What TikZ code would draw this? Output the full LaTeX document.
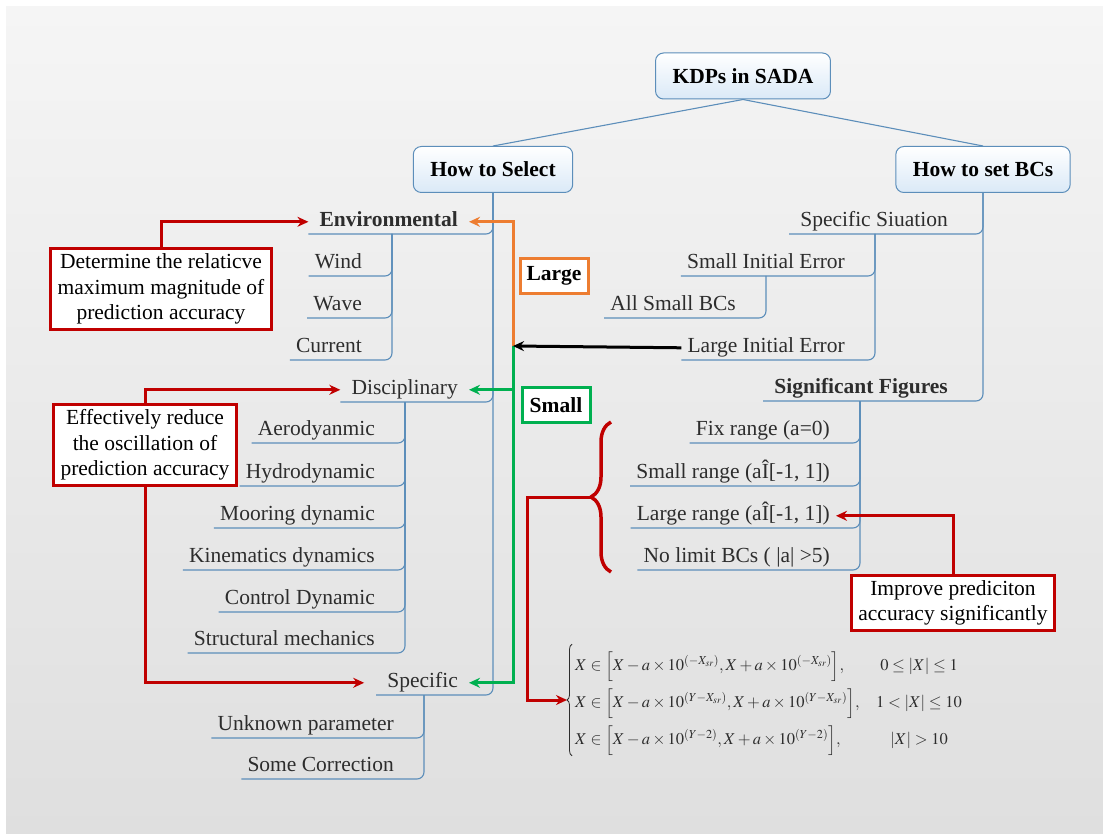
\documentclass[tikz,border=0pt]{standalone}
\usepackage{mathptmx}
\usepackage[no-math]{fontspec}
\setmainfont{Liberation Serif}
\usetikzlibrary{arrows.meta,decorations.pathreplacing}

\definecolor{bgtop}{RGB}{245,245,245}
\definecolor{bgbottom}{RGB}{223,223,223}
\definecolor{treeblue}{RGB}{92,142,186}
\definecolor{boxblue}{RGB}{218,233,247}
\definecolor{accred}{RGB}{192,0,0}
\definecolor{accorange}{RGB}{237,125,49}
\definecolor{accgreen}{RGB}{0,176,80}
\definecolor{itemgray}{RGB}{45,45,45}

\newcommand{\mainsize}{\fontsize{21.5}{25.5}\selectfont}

\tikzset{
  topbox/.style={draw=treeblue, line width=1pt, rounded corners=8pt, top color=white,
    bottom color=boxblue, minimum height=46pt, inner xsep=17pt, font=\mainsize\bfseries, text=black},
  item/.style={anchor=south east, inner xsep=6pt, inner ysep=2pt, text height=15pt,
    text depth=5pt, text=itemgray},
  branch/.style={draw=treeblue, line width=1.1pt, rounded corners=7pt},
  note/.style={draw=accred, line width=3pt, fill=white, align=center, inner xsep=7pt,
    inner ysep=5pt, text=black},
  tag/.style={line width=3pt, fill=white, minimum width=68pt, minimum height=35pt,
    inner sep=3pt, font=\mainsize\bfseries, text=black},
  flow/.style={line width=3pt, -{Stealth[length=11pt,width=10pt]}}
}

\begin{document}
\begin{tikzpicture}[x=1pt, y=-1pt, font=\mainsize]
\useasboundingbox (0,0) rectangle (1103,834);
\fill[top color=bgtop, bottom color=bgbottom] (6,7) rectangle (1103,834);

\node[topbox] (root) at (743,76) {KDPs in SADA};
\node[topbox] (sel) at (493,169.5) {How to Select};
\node[topbox] (bcs) at (983,169.5) {How to set BCs};
\draw[branch] (root.south) -- (sel.north);
\draw[branch] (root.south) -- (bcs.north);

% how to select
\node[item, inner xsep=11pt] (env) at (469,234) {\bfseries Environmental};
\node[item, inner xsep=11pt] (disc) at (469,402) {Disciplinary};
\node[item, inner xsep=11pt] (spec) at (469,695) {Specific};
\foreach \n in {env,disc,spec}
  \draw[branch] (\n.south west) -| (sel.south);

\coordinate (env-fork) at (392,234);
\node[item] (wind) at (368,276) {Wind};
\node[item] (wave) at (368,318) {Wave};
\node[item] (current) at (368,360) {Current};
\foreach \n in {wind,wave,current}
  \draw[branch] (\n.south west) -| (env-fork);

\coordinate (disc-fork) at (405,402);
\node[item] (aero) at (381,443) {Aerodyanmic};
\node[item] (hydro) at (381,486) {Hydrodynamic};
\node[item] (mooring) at (381,528) {Mooring dynamic};
\node[item] (kine) at (381,570) {Kinematics dynamics};
\node[item] (control) at (381,612) {Control Dynamic};
\node[item] (struct) at (381,653) {Structural mechanics};
\foreach \n in {aero,hydro,mooring,kine,control,struct}
  \draw[branch] (\n.south west) -| (disc-fork);

\coordinate (spec-fork) at (424,695);
\node[item] (unknown) at (400,738) {Unknown parameter};
\node[item] (corr) at (400,779) {Some Correction};
\foreach \n in {unknown,corr}
  \draw[branch] (\n.south west) -| (spec-fork);

% how to set BCs
\node[item, inner xsep=11pt] (situ) at (959,234) {Specific Siuation};
\node[item, inner xsep=11pt] (sig) at (959,401) {\bfseries Significant Figures};
\foreach \n in {situ,sig}
  \draw[branch] (\n.south west) -| (bcs.south);

\coordinate (situ-fork) at (875,234);
\node[item] (smallerr) at (851,276) {Small Initial Error};
\node[item] (largeerr) at (851,360) {Large Initial Error};
\foreach \n in {smallerr,largeerr}
  \draw[branch] (\n.south west) -| (situ-fork);
\coordinate (smallerr-fork) at (766,276);
\node[item] (allsmall) at (742,318) {All Small BCs};
\draw[branch] (allsmall.south west) -| (smallerr-fork);

\coordinate (sig-fork) at (860,401);
\node[item] (fix) at (836,443) {Fix range (a=0)};
\node[item] (smallr) at (836,486) {Small range (aÎ[-1, 1])};
\node[item] (larger) at (836,528) {Large range (aÎ[-1, 1])};
\node[item] (nolimit) at (836,570) {No limit BCs ( |a| >5)};
\foreach \n in {fix,smallr,larger,nolimit}
  \draw[branch] (\n.south west) -| (sig-fork);

% bounds formula
\node[anchor=west, inner sep=0pt, text=itemgray, font=\fontsize{16.5}{19}\selectfont] (formula) at (575,700)
  {$\renewcommand{\arraystretch}{1.95}\begin{array}{@{}l@{\quad}c@{}}
  X\in\Big[X-a\times10^{(-X_{sr})},X+a\times10^{(-X_{sr})}\Big], & 0\le|X|\le1\\
  X\in\Big[X-a\times10^{(Y-X_{sr})},X+a\times10^{(Y-X_{sr})}\Big], & 1<|X|\le10\\
  X\in\Big[X-a\times10^{(Y-2)},X+a\times10^{(Y-2)}\Big], & |X|>10
  \end{array}$};
\draw[itemgray, line width=0.8pt, decorate, decoration={brace, amplitude=5pt}]
  ([xshift=-3pt]formula.south west) -- ([xshift=-3pt]formula.north west);

\coordinate (bracetip) at (591,497);
\draw[accred, line width=3.5pt, decorate, decoration={brace, amplitude=20pt}] (611,572) -- (611,422);
\draw[flow, accred] (bracetip) -- ++(-64,0) |- ([xshift=-8pt]formula.west);

% large / small error
\node[tag, draw=accorange] (large) at (554,276) {Large};
\node[tag, draw=accgreen] (small) at (556,405) {Small};
\coordinate (junc) at (513,346);
\draw[flow, accorange] (junc) |- (env.east);
\draw[flow, accgreen] (junc) |- (disc.east);
\draw[flow, accgreen] (junc) |- (spec.east);
\draw[flow, black] (largeerr.west) -- (junc);

% notes
\node[note] (det) at (161,289) {Determine the relaticve\\maximum magnitude of\\prediction accuracy};
\node[note] (eff) at (145,445) {Effectively reduce\\the oscillation of\\prediction accuracy};
\node[note] (impr) at (953,603) {Improve prediciton\\accuracy significantly};
\draw[flow, accred] (det.north) |- (env.west);
\draw[flow, accred] (eff.north) |- (disc.west);
\draw[flow, accred] (eff.south) |- ([xshift=-12pt]spec.west);
\draw[flow, accred] (impr.north) |- (larger.east);
\end{tikzpicture}
\end{document}
